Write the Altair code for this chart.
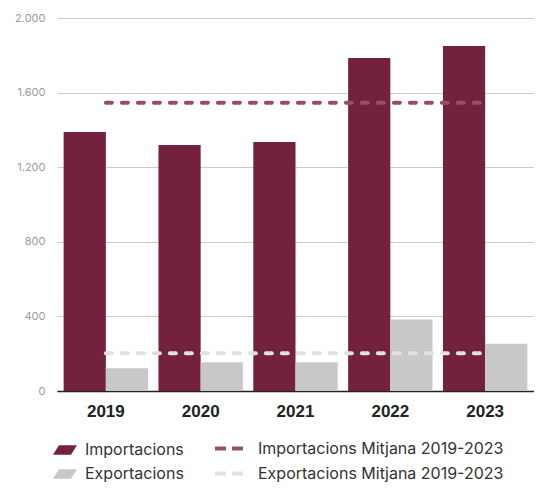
import altair as alt
import pandas as pd

years = ["2019", "2020", "2021", "2022", "2023"]
importacions = [1389, 1319, 1335, 1786, 1850]
exportacions = [122, 154, 154, 384, 254]
series = ["Importacions", "Exportacions"]
mean_labels = ["Importacions Mitjana 2019-2023", "Exportacions Mitjana 2019-2023"]
mean_values = [1545, 202]
y_ticks = [0, 400, 800, 1200, 1600, 2000]

bar_colors = ["#74213d", "#c8c8ca"]
mean_colors = ["#98506a", "#e1e1e3"]

rows = []
for i, y in enumerate(years):
    rows.append({"year": y, "series": series[0], "value": importacions[i]})
    rows.append({"year": y, "series": series[1], "value": exportacions[i]})
bars_df = pd.DataFrame(rows)

means_df = pd.DataFrame({
    "label": mean_labels,
    "value": mean_values,
    "start": [years[0]] * 2,
    "end": [years[-1]] * 2,
})

FONT = "Inter"

x_scale = alt.Scale(domain=years, paddingInner=0.11, paddingOuter=0.07)
y_scale = alt.Scale(domain=[0, 2000])

bars = alt.Chart(bars_df).mark_bar().encode(
    x=alt.X("year:N", scale=x_scale, title=None,
            axis=alt.Axis(labelAngle=0, labelFont="Liberation Sans", labelFontWeight="bold",
                          labelFontSize=17, labelColor="#222222", labelPadding=12,
                          ticks=False, domainColor="#222222", domainWidth=1.5, grid=False)),
    xOffset=alt.XOffset("series:N", sort=series, scale=alt.Scale(paddingInner=0, paddingOuter=0)),
    y=alt.Y("value:Q", scale=y_scale, title=None,
            axis=alt.Axis(values=y_ticks, labelExpr="replace(format(datum.value, ','), ',', '.')",
                          labelFont=FONT, labelFontSize=11, labelColor="#9a9a9a", labelPadding=12,
                          ticks=False, domain=False, gridColor="#cccccc", gridWidth=1)),
    fill=alt.Fill("series:N", sort=series,
                  scale=alt.Scale(domain=series, range=bar_colors),
                  legend=alt.Legend(title=None, orient="none", legendX=-5, legendY=419,
                                    symbolType="M -1 0.4 L -0.5 -0.4 L 1 -0.4 L 0.5 0.4 Z",
                                    symbolSize=576, labelFont=FONT, labelFontSize=16,
                                    labelColor="#333333", rowPadding=3, labelOffset=7,
                                    labelLimit=400)),
)

rules = alt.Chart(means_df).mark_rule(strokeWidth=4, strokeDash=[6, 10], strokeCap="round").encode(
    x=alt.X("start:N", scale=x_scale),
    x2="end:N",
    y=alt.Y("value:Q", scale=y_scale),
    stroke=alt.Stroke("label:N", sort=mean_labels,
                      scale=alt.Scale(domain=mean_labels, range=mean_colors),
                      legend=alt.Legend(title=None, orient="none", legendX=156, legendY=414,
                                        symbolType="stroke", symbolStrokeWidth=4,
                                        symbolDash=[11, 6], symbolSize=841,
                                        labelFont=FONT, labelFontSize=16,
                                        labelColor="#333333", rowPadding=-6, labelOffset=12,
                                        labelLimit=400)),
)

chart = alt.layer(bars, rules).properties(
    width=477, height=373,
    padding={"left": 49, "top": 10, "right": 0, "bottom": 91},
    autosize=alt.AutoSizeParams(type="none"),
).configure_view(stroke=None)

chart.save("out.html", embed_options={"renderer": "svg", "actions": False})
